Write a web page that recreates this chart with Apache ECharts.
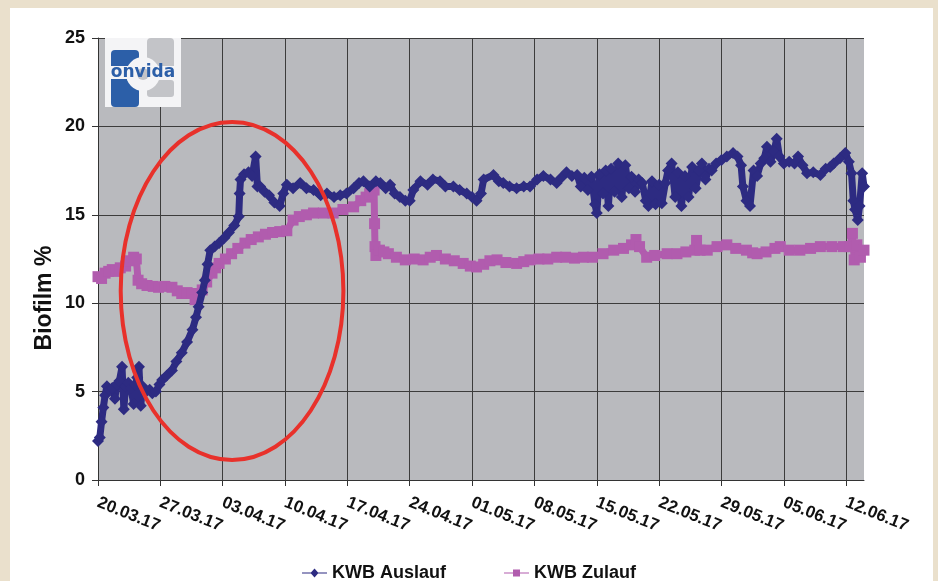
<!DOCTYPE html>
<html>
<head>
<meta charset="utf-8">
<script src="https://cdn.jsdelivr.net/npm/echarts@6/dist/echarts.min.js"></script>
<style>
  html, body { margin: 0; padding: 0; background: #eae0cc; }
  #panel { position: absolute; left: 10px; top: 8px; width: 923px; height: 573px; background: #ffffff; }
  #chart { position: absolute; left: 0; top: 0; width: 938px; height: 581px; }
</style>
</head>
<body>
<div id="panel"></div>
<div id="chart"></div>
<script>
// Day offsets are counted from 20.03.2017
const tickLabels = ['20.03.17','27.03.17','03.04.17','10.04.17','17.04.17','24.04.17','01.05.17','08.05.17','15.05.17','22.05.17','29.05.17','05.06.17','12.06.17'];
const yTicks = [0, 5, 10, 15, 20, 25];
const seriesNames = ['KWB Auslauf', 'KWB Zulauf'];

// [day offset, Biofilm %]
const auslauf = [
[0.0,2.2],[0.2,2.4],[0.4,3.3],[0.6,4.1],[0.8,4.8],[1.0,5.3],[1.3,5.1],[1.6,5.2],[1.9,4.6],[2.1,5.4],
[2.4,5.6],[2.7,6.4],[2.9,4.0],[3.1,5.3],[3.4,5.5],[3.7,5.2],[4.0,4.3],[4.2,5.4],[4.4,5.8],[4.6,6.4],
[4.8,4.2],[5.0,5.3],[5.4,5.0],[5.8,5.1],[6.1,4.9],[6.5,5.0],[6.9,5.4],[7.2,5.65],[7.7,5.9],[8.3,6.2],
[8.8,6.7],[9.4,7.2],[10.0,7.8],[10.6,8.5],[11.0,9.2],[11.3,9.8],[11.7,10.6],[12.0,11.3],[12.3,12.2],[12.6,13.0],
[13.1,13.2],[13.6,13.4],[14.2,13.7],[14.7,14.0],[15.3,14.4],[15.8,14.9],[15.9,16.2],[16.0,17.0],[16.4,17.3],[16.9,17.4],
[17.3,17.2],[17.7,18.3],[17.9,16.6],[18.2,16.6],[18.7,16.3],[19.2,16.1],[19.8,15.7],[20.4,15.5],[20.8,16.2],[21.2,16.7],
[21.9,16.5],[22.7,16.8],[23.4,16.5],[24.2,16.4],[25.0,16.1],[25.7,16.2],[26.5,16.0],[27.2,16.1],[27.9,16.2],[28.7,16.5],
[29.3,16.8],[29.8,16.9],[30.5,16.6],[31.2,16.9],[31.7,16.8],[32.3,16.5],[32.8,16.7],[33.3,16.2],[33.9,16.0],[34.5,15.8],
[35.0,15.8],[35.4,16.4],[36.2,16.9],[37.0,16.7],[37.6,17.0],[38.4,16.9],[39.0,16.6],[39.9,16.6],[40.6,16.4],[41.4,16.2],
[42.0,16.0],[42.5,15.8],[43.0,16.2],[43.3,17.0],[44.4,17.25],[45.0,16.9],[45.5,16.8],[46.2,16.6],[47.0,16.5],[47.8,16.6],
[48.5,16.6],[49.3,17.0],[50.0,17.2],[50.8,17.0],[51.5,16.8],[52.0,17.1],[52.6,17.4],[53.2,17.2],[53.8,17.25],[54.2,16.6],
[54.6,17.1],[55.0,16.4],[55.4,17.15],[55.8,15.6],[56.0,15.1],[56.3,17.3],[56.7,16.2],[57.0,17.5],[57.3,15.5],[57.6,17.6],
[58.0,16.3],[58.4,17.9],[58.8,16.0],[59.2,17.8],[59.6,16.5],[59.9,17.15],[60.3,16.3],[60.7,17.0],[61.1,16.8],[61.5,15.8],
[61.8,15.5],[62.2,16.9],[62.6,15.6],[63.0,16.7],[63.3,15.65],[63.7,16.8],[64.0,17.5],[64.4,17.9],[64.8,16.0],[65.1,17.4],
[65.5,15.5],[65.9,17.2],[66.3,16.0],[66.7,17.7],[67.1,16.5],[67.5,17.5],[67.8,17.9],[68.2,17.0],[68.6,17.6],[68.9,17.5],
[69.4,17.9],[70.0,18.1],[70.6,18.3],[71.3,18.5],[71.8,18.3],[72.2,17.8],[72.4,16.6],[72.8,15.8],[73.2,15.5],[73.6,17.5],
[74.0,17.2],[74.4,17.9],[74.8,18.2],[75.1,18.85],[75.5,18.0],[75.9,18.6],[76.2,19.3],[76.5,18.3],[77.0,17.9],[77.6,18.0],
[78.2,17.9],[78.6,18.3],[79.1,17.8],[79.6,17.35],[80.3,17.4],[81.1,17.25],[81.7,17.6],[82.2,17.7],[82.6,17.9],[83.3,18.2],
[83.9,18.5],[84.3,18.0],[84.6,17.35],[84.8,15.8],[85.0,15.3],[85.3,14.7],[85.5,15.5],[85.8,17.35],[86.0,16.6]
];

const zulauf = [
[0.0,11.5],[0.4,11.4],[0.8,11.7],[1.2,11.8],[1.6,11.9],[2.0,11.8],[2.5,12.0],[3.1,12.1],[3.5,12.4],[4.0,12.6],
[4.3,12.5],[4.5,11.3],[4.9,11.1],[5.5,11.0],[6.2,10.95],[6.8,10.9],[7.5,10.95],[8.3,10.9],[8.9,10.7],[9.4,10.55],
[10.0,10.6],[10.6,10.55],[10.9,10.2],[11.3,10.5],[11.7,10.75],[12.2,11.2],[12.8,11.7],[13.2,12.0],[13.6,12.25],[14.3,12.5],
[15.0,12.8],[15.7,13.1],[16.5,13.4],[17.2,13.6],[18.0,13.75],[18.8,13.9],[19.6,14.0],[20.4,14.05],[21.2,14.1],[21.9,14.7],
[22.6,14.9],[23.4,15.0],[24.2,15.1],[25.3,15.1],[26.4,15.1],[27.5,15.3],[28.7,15.45],[29.5,15.8],[30.1,16.0],[30.5,16.2],
[31.0,16.4],[31.05,14.5],[31.1,13.2],[31.2,12.7],[31.6,13.0],[32.1,12.9],[32.6,12.8],[33.5,12.6],[34.5,12.45],[35.5,12.5],
[36.5,12.45],[37.3,12.6],[38.0,12.7],[39.0,12.5],[40.0,12.4],[41.0,12.25],[41.8,12.1],[42.5,12.05],[43.3,12.2],[44.0,12.4],
[44.8,12.45],[45.8,12.3],[47.0,12.25],[47.8,12.35],[48.5,12.45],[49.5,12.5],[50.5,12.5],[51.5,12.6],[52.5,12.6],[53.5,12.55],
[54.5,12.6],[55.5,12.6],[56.7,12.8],[57.9,13.0],[59.0,13.1],[59.9,13.3],[60.4,13.6],[60.8,13.2],[61.6,12.6],[62.5,12.7],
[63.9,12.8],[65.0,12.8],[66.0,12.9],[67.0,13.0],[67.2,13.55],[67.6,13.0],[68.4,13.0],[69.5,13.2],[70.6,13.3],[71.6,13.1],
[72.8,13.0],[73.5,12.85],[74.0,12.8],[75.0,12.9],[76.0,13.1],[76.6,13.2],[77.6,13.0],[78.8,13.0],[80.0,13.1],[81.1,13.2],
[82.4,13.2],[83.7,13.2],[84.4,13.2],[84.7,13.95],[84.9,12.45],[85.2,13.3],[85.6,12.6],[86.0,13.0]
];

// Annotation ellipse in data coordinates: centre [day, value], radii [days, value units]
const ellipseCenter = [15.05, 10.69];
const ellipseRadius = [12.5, 9.56];

const chart = echarts.init(document.getElementById('chart'), null, { renderer: 'canvas' });
const FONT = '"Liberation Sans", Arial, sans-serif';
const BLUE = '#2d2b82';
const MAGENTA = '#b15cae';
const xMax = 86;
const xTickValues = tickLabels.map((_, i) => i * 7);

const option = {
  animation: false,
  backgroundColor: 'transparent',
  grid: {
    left: 98, top: 38, right: 74, bottom: 101,
    show: true, backgroundColor: '#b9babe', borderWidth: 0,
    containLabel: false
  },
  legend: {
    data: [
      { name: seriesNames[0], icon: 'path://M0,4 L25,4 L25,5 L0,5 Z M12.5,0 L16.5,4.5 L12.5,9 L8.5,4.5 Z' },
      { name: seriesNames[1], icon: 'path://M0,4 L25,4 L25,5 L0,5 Z M9,1 L16,1 L16,8 L9,8 Z' }
    ],
    top: 559,
    left: 'center',
    itemWidth: 25,
    itemHeight: 9,
    itemGap: 58,
    textStyle: { fontFamily: FONT, fontWeight: 'bold', fontSize: 18, color: '#111' }
  },
  xAxis: {
    type: 'value',
    min: 0,
    max: xMax,
    interval: 7,
    axisLine: { show: true, lineStyle: { color: '#333', width: 1 } },
    axisTick: { show: true, length: 6, lineStyle: { color: '#333' }, customValues: xTickValues },
    splitLine: { show: true, lineStyle: { color: ['#3c3c3c','#3c3c3c','#3c3c3c','#3c3c3c','#3c3c3c','#3c3c3c','#3c3c3c','#3c3c3c','#3c3c3c','#3c3c3c','#3c3c3c','#3c3c3c','#3c3c3c','#b9babe'], width: 1 } },
    axisLabel: {
      customValues: xTickValues,
      rotate: -22,
      margin: 22,
      fontFamily: FONT,
      fontWeight: 'bold',
      fontSize: 17,
      color: '#111',
      formatter: function (v) { const i = Math.round(v / 7); return (Math.abs(v - i * 7) < 1e-6 && tickLabels[i]) ? tickLabels[i] : ''; }
    }
  },
  yAxis: {
    type: 'value',
    min: yTicks[0],
    max: yTicks[yTicks.length - 1],
    interval: 5,
    axisLine: { show: true, lineStyle: { color: '#333', width: 1 } },
    axisTick: { show: true, length: 6, lineStyle: { color: '#333' } },
    splitLine: { show: true, lineStyle: { color: '#3c3c3c', width: 1 } },
    axisLabel: {
      margin: 13,
      fontFamily: FONT,
      fontWeight: 'bold',
      fontSize: 18,
      color: '#111'
    }
  },
  series: [
    {
      name: seriesNames[0],
      type: 'line',
      data: auslauf,
      symbol: 'diamond',
      symbolSize: 12,
      showAllSymbol: true,
      itemStyle: { color: BLUE },
      lineStyle: { color: BLUE, width: 7, join: 'round', cap: 'round' },
      z: 3
    },
    {
      name: seriesNames[1],
      type: 'line',
      data: zulauf,
      symbol: 'rect',
      symbolSize: 11,
      showAllSymbol: true,
      itemStyle: { color: MAGENTA },
      lineStyle: { color: MAGENTA, width: 7, join: 'round', cap: 'round' },
      z: 2
    }
  ]
};
chart.setOption(option);

// Annotation graphics (logo, axis title, ellipse) positioned via the chart's own scales
const c = chart.convertToPixel({ gridIndex: 0 }, ellipseCenter);
const e = chart.convertToPixel({ gridIndex: 0 }, [ellipseCenter[0] + ellipseRadius[0], ellipseCenter[1] + ellipseRadius[1]]);
const origin = chart.convertToPixel({ gridIndex: 0 }, [0, 25]);
const lx = origin[0] + 7, ly = origin[1];

chart.setOption({
  graphic: [
    {
      type: 'ellipse',
      shape: { cx: c[0], cy: c[1], rx: Math.abs(e[0] - c[0]), ry: Math.abs(c[1] - e[1]) },
      style: { fill: null, stroke: '#e8312b', lineWidth: 4 },
      z: 100
    },
    {
      type: 'text',
      x: 45, y: 298,
      rotation: Math.PI / 2,
      style: { text: 'Biofilm %', fontFamily: FONT, fontWeight: 'bold', fontSize: 23, fill: '#111', align: 'center', verticalAlign: 'middle' },
      z: 50
    },
    {
      type: 'group',
      x: lx, y: ly,
      z: 50,
      children: [
        { type: 'rect', shape: { x: 0, y: 0, width: 76, height: 69 }, style: { fill: '#f4f4f6' } },
        { type: 'rect', shape: { x: 42, y: 0, width: 27, height: 33, r: 4 }, style: { fill: '#c3c4c8' } },
        { type: 'rect', shape: { x: 42, y: 42, width: 27, height: 17, r: 3 }, style: { fill: '#c3c4c8' } },
        { type: 'rect', shape: { x: 6, y: 12, width: 28, height: 57, r: 4 }, style: { fill: '#2c5fa8' } },
        { type: 'circle', shape: { cx: 38, cy: 36, r: 17 }, style: { fill: '#f4f4f6' } },
        { type: 'rect', shape: { x: 0, y: 28, width: 76, height: 13 }, style: { fill: '#f4f4f6' } },
        { type: 'circle', shape: { cx: 38, cy: 36, r: 6 }, style: { fill: '#c3c4c8' } },
        { type: 'text', x: 38, y: 35, style: { text: 'onvida', fontFamily: '"DejaVu Sans", sans-serif', fontWeight: 'bold', fontSize: 17, fill: '#2c5fa8', align: 'center', verticalAlign: 'middle' } }
      ]
    }
  ]
});
</script>
</body>
</html>
